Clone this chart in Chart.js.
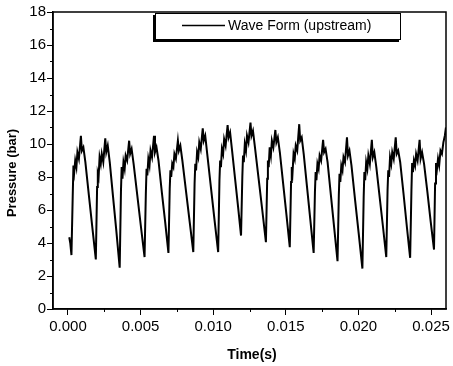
<!DOCTYPE html>
<html>
<head>
<meta charset="utf-8">
<script src="https://cdn.jsdelivr.net/npm/chart.js@4.4.1/dist/chart.umd.min.js"></script>
<style>
  body { margin: 0; background: #fff; }
  #wrap { width: 453px; height: 366px; }
</style>
</head>
<body>
<div id="wrap"><canvas id="waveChart" width="453" height="366"></canvas></div>
<script>
// time in milliseconds (one line per cycle)
const timeMs = [
    0.089, 0.158,
    0.240, 0.329, 0.377, 0.432, 0.500, 0.582, 0.651, 0.754, 0.891, 0.959, 1.062, 1.199, 1.439, 1.678,
    1.918, 2.007, 2.055, 2.110, 2.178, 2.260, 2.329, 2.432, 2.569, 2.637, 2.740, 2.877, 3.105, 3.334,
    3.562, 3.651, 3.699, 3.754, 3.822, 3.904, 3.973, 4.076, 4.213, 4.281, 4.384, 4.521, 4.772, 5.023,
    5.274, 5.363, 5.411, 5.466, 5.534, 5.616, 5.685, 5.788, 5.925, 5.993, 6.096, 6.233, 6.461, 6.690,
    6.918, 7.007, 7.055, 7.110, 7.178, 7.260, 7.329, 7.432, 7.569, 7.637, 7.740, 7.877, 8.128, 8.379,
    8.630, 8.719, 8.767, 8.822, 8.890, 8.972, 9.041, 9.144, 9.281, 9.349, 9.452, 9.589, 9.840, 10.091,
    10.342, 10.431, 10.479, 10.534, 10.602, 10.684, 10.753, 10.856, 10.993, 11.061, 11.164, 11.301, 11.506, 11.712,
    11.917, 12.006, 12.054, 12.109, 12.177, 12.259, 12.328, 12.431, 12.568, 12.636, 12.739, 12.876, 13.127, 13.379,
    13.630, 13.719, 13.767, 13.822, 13.890, 13.972, 14.041, 14.144, 14.281, 14.349, 14.452, 14.589, 14.817, 15.045,
    15.273, 15.362, 15.410, 15.465, 15.533, 15.615, 15.684, 15.787, 15.924, 15.992, 16.095, 16.232, 16.460, 16.689,
    16.917, 17.006, 17.054, 17.109, 17.177, 17.259, 17.328, 17.431, 17.568, 17.636, 17.739, 17.876, 18.104, 18.333,
    18.561, 18.650, 18.698, 18.753, 18.821, 18.903, 18.972, 19.075, 19.212, 19.280, 19.383, 19.520, 19.771, 20.022,
    20.273, 20.362, 20.410, 20.465, 20.533, 20.615, 20.684, 20.787, 20.924, 20.992, 21.095, 21.232, 21.460, 21.689,
    21.917, 22.006, 22.054, 22.109, 22.177, 22.259, 22.328, 22.431, 22.568, 22.636, 22.739, 22.876, 23.104, 23.333,
    23.561, 23.650, 23.698, 23.753, 23.821, 23.903, 23.972, 24.075, 24.212, 24.280, 24.383, 24.520, 24.748, 24.976,
    25.204, 25.279, 25.341, 25.410, 25.480, 25.560, 25.650, 25.750, 25.850, 25.950, 26.027
];

// pressure in bar, same order as timeMs
const pressureBar = [
    4.35, 4.0,
    3.27, 6.9, 8.7, 8.3, 9.0, 8.6, 9.5, 9.1, 10.5, 9.6, 9.8, 8.9, 6.9, 4.95,
    3.0, 7.4, 8.2, 8.0, 9.2, 8.8, 9.4, 8.9, 10.35, 9.5, 9.9, 8.9, 6.8, 4.7,
    2.5, 7.2, 8.6, 7.9, 8.9, 8.5, 9.3, 9.0, 10.2, 9.4, 9.7, 8.8, 6.9, 5.0,
    3.15, 7.0, 8.5, 8.1, 9.1, 8.7, 9.6, 9.2, 10.5, 9.5, 9.8, 9.0, 7.1, 5.3,
    3.4, 7.3, 8.4, 8.0, 8.8, 8.6, 9.4, 9.1, 10.2, 9.6, 9.9, 9.0, 7.15, 5.3,
    3.45, 7.6, 8.8, 8.4, 9.5, 9.2, 10.1, 9.7, 10.95, 10.2, 10.5, 9.4, 7.4, 5.4,
    3.45, 7.8, 9.0, 8.6, 9.7, 9.4, 10.3, 9.9, 11.15, 10.4, 10.7, 9.6, 7.9, 6.2,
    4.45, 8.0, 9.3, 8.9, 10.0, 9.6, 10.5, 10.1, 11.3, 10.5, 10.8, 9.8, 7.9, 6.0,
    4.05, 7.9, 9.0, 8.6, 9.8, 9.3, 10.2, 9.8, 10.85, 10.1, 10.4, 9.5, 7.6, 5.7,
    3.75, 7.7, 8.6, 8.3, 9.4, 9.1, 9.9, 9.6, 11.2, 10.2, 10.4, 9.4, 7.4, 5.4,
    3.4, 7.1, 8.3, 7.8, 8.8, 8.5, 9.3, 9.0, 10.25, 9.5, 9.7, 8.9, 6.9, 4.9,
    2.9, 6.9, 8.2, 7.7, 8.7, 8.4, 9.2, 8.9, 10.4, 9.3, 9.6, 8.7, 6.6, 4.55,
    2.45, 6.8, 8.3, 7.8, 8.9, 8.5, 9.3, 8.8, 10.25, 9.2, 9.5, 8.6, 6.8, 5.0,
    3.15, 7.2, 8.4, 8.0, 9.2, 8.8, 9.5, 9.1, 10.4, 9.4, 9.6, 8.9, 7.0, 5.0,
    3.1, 7.2, 8.85, 8.3, 9.0, 8.7, 9.4, 9.0, 10.25, 9.1, 9.5, 8.8, 7.1, 5.3,
    3.6, 7.6, 8.85, 8.5, 9.1, 8.7, 9.6, 9.4, 10.1, 10.5, 11.0
];

const xTicks = [0.000, 0.005, 0.010, 0.015, 0.020, 0.025];
const xMinorTicks = [0.0025, 0.0075, 0.0125, 0.0175, 0.0225];
const yTicks = [0, 2, 4, 6, 8, 10, 12, 14, 16, 18];
const yMinorTicks = [1, 3, 5, 7, 9, 11, 13, 15, 17];

const FONT = "'Liberation Sans', Arial, sans-serif";

// frame, minor ticks, axis titles and the boxed legend
const decorations = {
    id: 'decorations',
    afterDraw(chart) {
        const { ctx, chartArea: a, scales: { x, y } } = chart;
        ctx.save();
        ctx.strokeStyle = '#000';
        ctx.lineWidth = 1.5;
        ctx.strokeRect(a.left, a.top, a.right - a.left, a.bottom - a.top);

        ctx.lineWidth = 1;
        ctx.beginPath();
        xMinorTicks.forEach(v => {
            const px = Math.round(x.getPixelForValue(v)) + 0.5;
            ctx.moveTo(px, a.bottom);
            ctx.lineTo(px, a.bottom + 3);
        });
        yMinorTicks.forEach(v => {
            const py = Math.round(y.getPixelForValue(v)) + 0.5;
            ctx.moveTo(a.left, py);
            ctx.lineTo(a.left - 3, py);
        });
        ctx.stroke();

        // axis titles
        ctx.fillStyle = '#000';
        ctx.textAlign = 'center';
        ctx.textBaseline = 'middle';
        ctx.font = 'bold 14px ' + FONT;
        ctx.fillText('Time(s)', 252, 355);
        ctx.save();
        ctx.translate(12, 173);
        ctx.rotate(-Math.PI / 2);
        ctx.font = 'bold 13px ' + FONT;
        ctx.fillText('Pressure (bar)', 0, 0);
        ctx.restore();

        // legend box with shadow
        const bx = 155, by = 13, bw = 246, bh = 27;
        ctx.fillStyle = '#000';
        ctx.fillRect(bx - 2, by + 2, bw, bh);
        ctx.fillStyle = '#fff';
        ctx.fillRect(bx, by, bw, bh);
        ctx.lineWidth = 1;
        ctx.strokeRect(bx + 0.5, by + 0.5, bw - 1, bh - 1);
        ctx.beginPath();
        ctx.lineWidth = 1.5;
        ctx.moveTo(182, 25.5);
        ctx.lineTo(225, 25.5);
        ctx.stroke();
        ctx.fillStyle = '#000';
        ctx.textAlign = 'left';
        ctx.font = '14px ' + FONT;
        ctx.fillText(chart.data.datasets[0].label, 228, 26);
        ctx.restore();
    }
};

const ctx = document.getElementById('waveChart').getContext('2d');
new Chart(ctx, {
    type: 'line',
    data: {
        datasets: [{
            label: 'Wave Form (upstream)',
            data: timeMs.map((t, i) => ({ x: t / 1000, y: pressureBar[i] })),
            borderColor: '#000',
            borderWidth: 2,
            pointRadius: 0,
            tension: 0,
            fill: false
        }]
    },
    options: {
        responsive: false,
        animation: false,
        layout: { padding: { top: 12, right: 5, left: 0, bottom: 0 } },
        plugins: {
            legend: { display: false },
            tooltip: { enabled: false }
        },
        scales: {
            x: {
                type: 'linear',
                min: -0.00103,
                max: 0.02603,
                afterBuildTicks: (scale) => { scale.ticks = xTicks.map(v => ({ value: v })); },
                afterFit: (scale) => { scale.height = 57; },
                ticks: {
                    color: '#000',
                    font: { family: FONT, size: 15 },
                    padding: 3,
                    maxRotation: 0,
                    autoSkip: false,
                    callback: (v) => Number(v).toFixed(3)
                },
                grid: { drawOnChartArea: false, tickLength: 6, tickColor: '#000', tickWidth: 1 },
                border: { color: '#000', width: 1.5 }
            },
            y: {
                min: 0,
                max: 18,
                afterBuildTicks: (scale) => { scale.ticks = yTicks.map(v => ({ value: v })); },
                afterFit: (scale) => { scale.width = 53; },
                ticks: {
                    color: '#000',
                    font: { family: FONT, size: 15 },
                    padding: 1,
                    autoSkip: false
                },
                grid: { drawOnChartArea: false, tickLength: 6, tickColor: '#000', tickWidth: 1 },
                border: { color: '#000', width: 1.5 }
            }
        }
    },
    plugins: [decorations]
});
</script>
</body>
</html>
